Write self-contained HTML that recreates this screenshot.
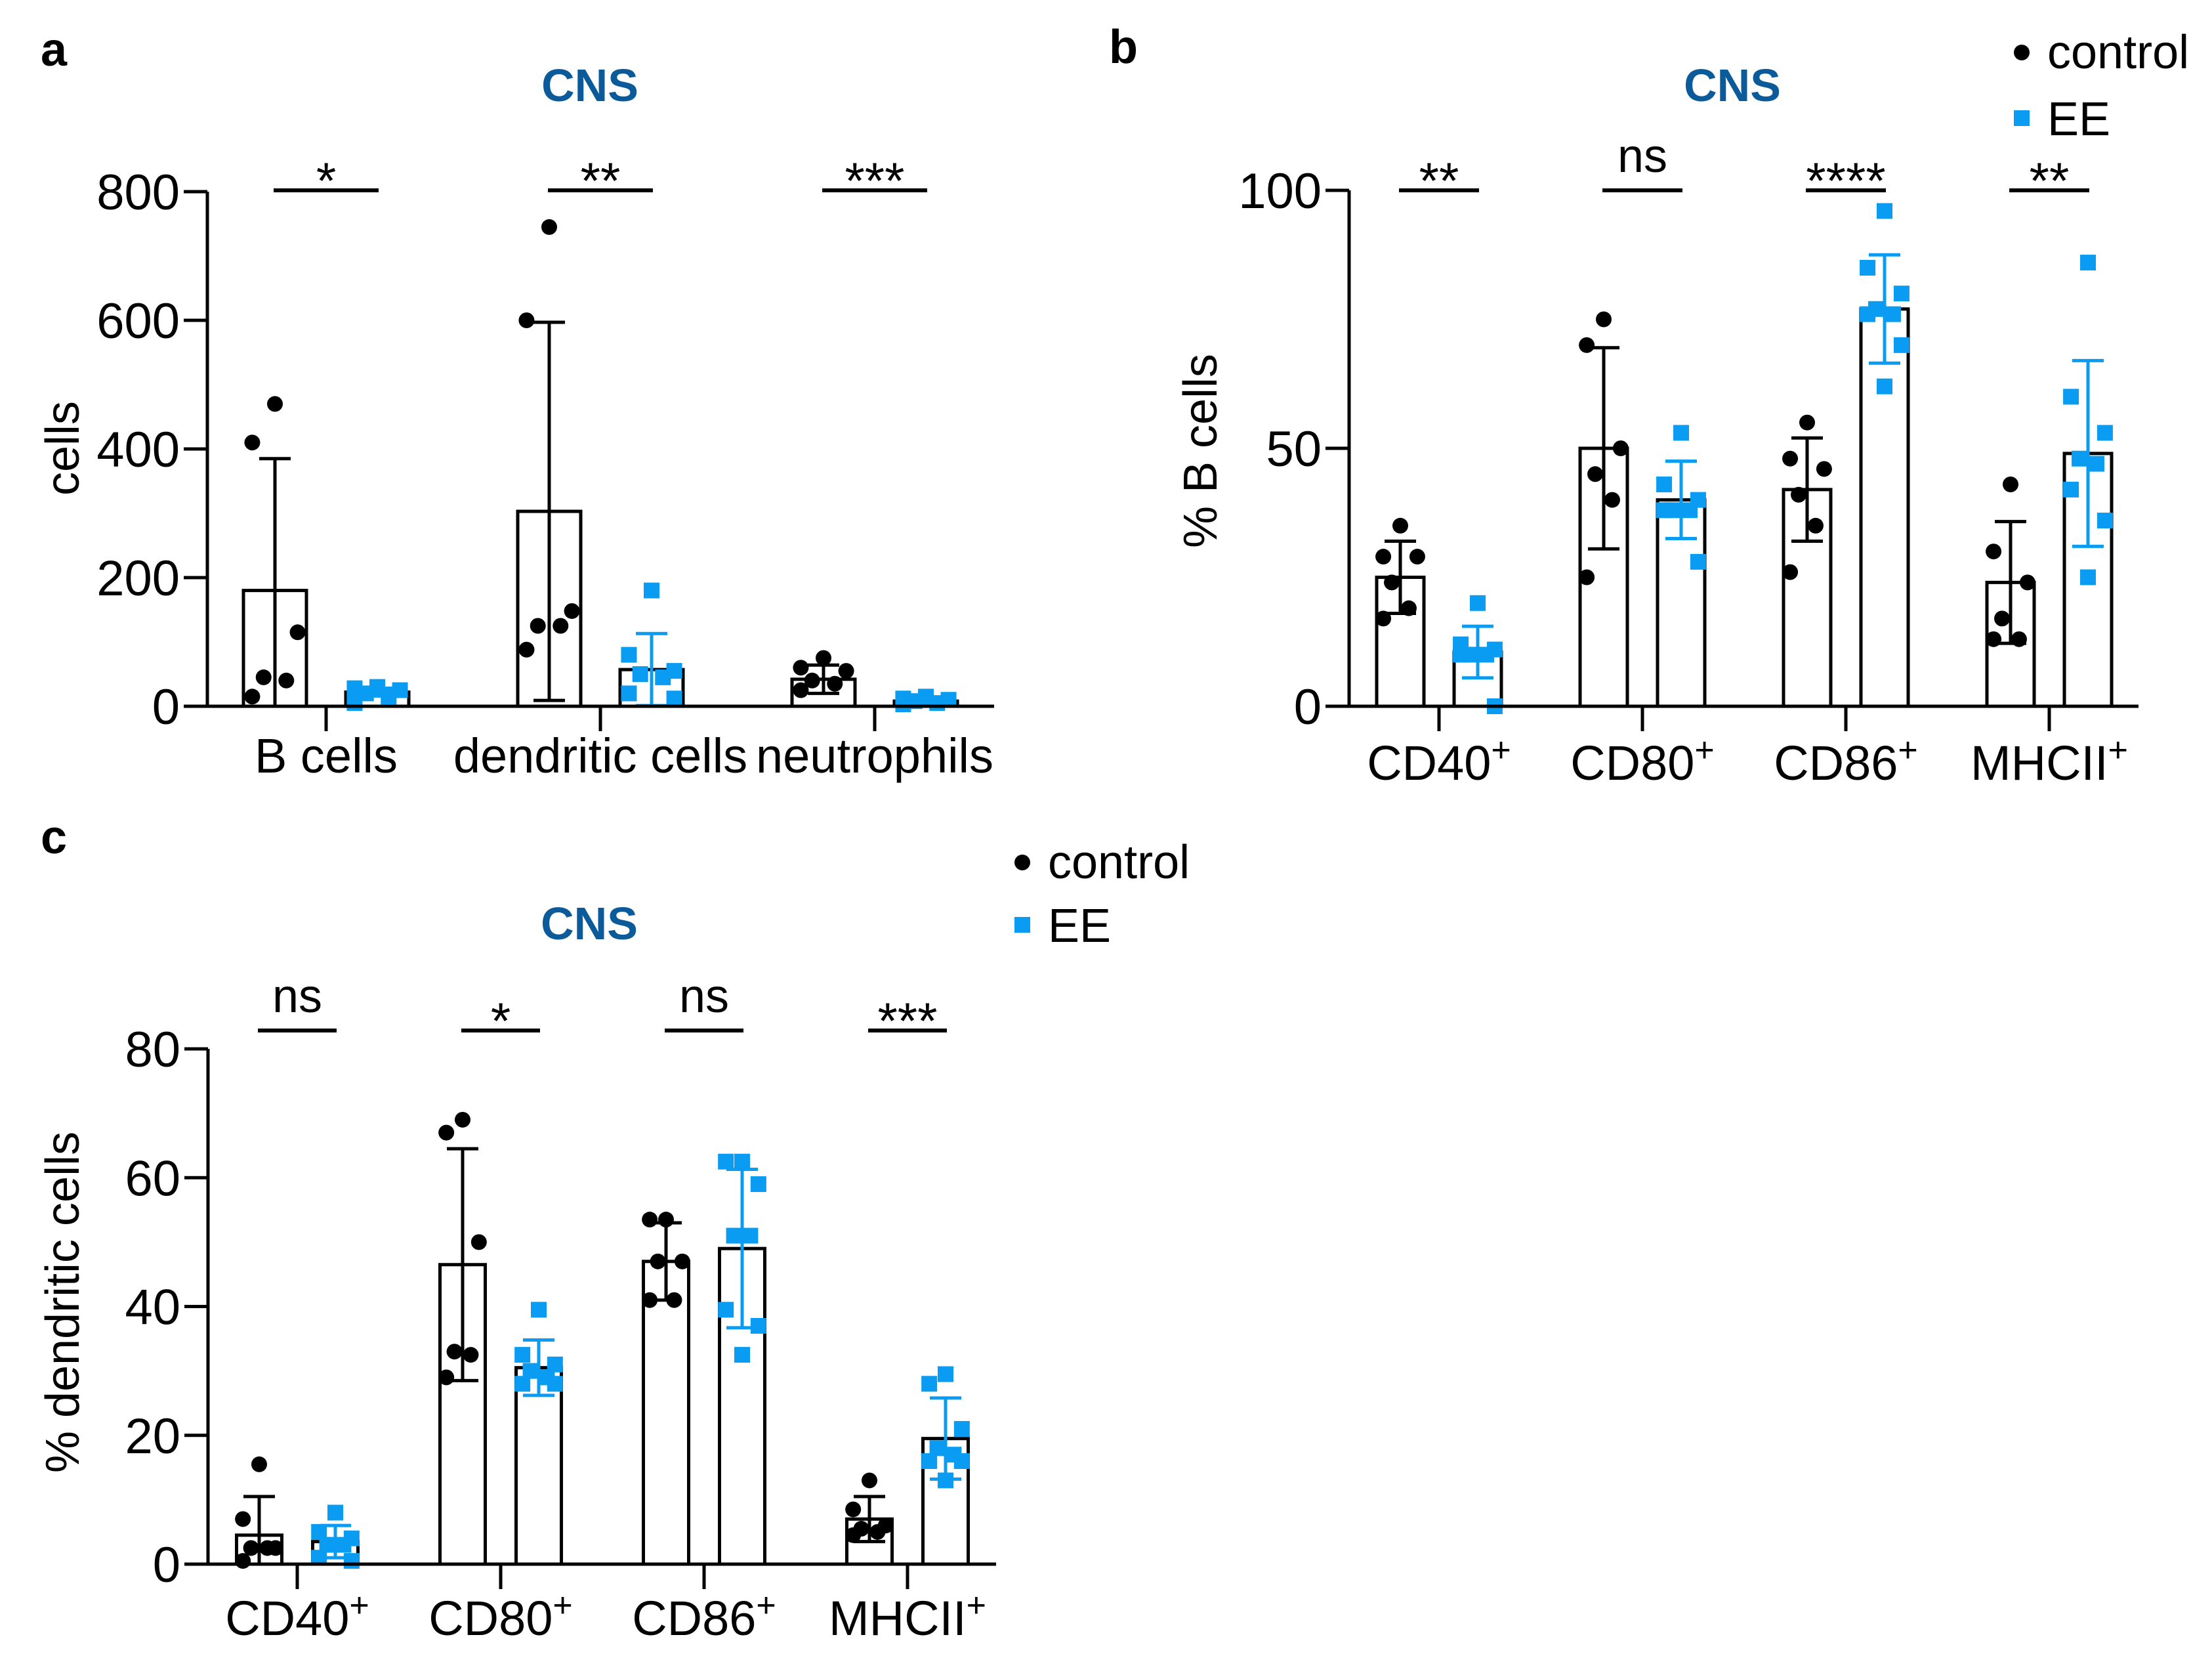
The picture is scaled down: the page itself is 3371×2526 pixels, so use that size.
<!DOCTYPE html>
<html><head><meta charset="utf-8"><style>
html,body{margin:0;padding:0;background:#fff;}
svg{display:block;font-family:"Liberation Sans",Arial,sans-serif;}
</style></head><body>
<svg id="fig" width="3371" height="2526" viewBox="0 0 3371 2526" xmlns="http://www.w3.org/2000/svg">
<rect width="3371" height="2526" fill="#fff"/>
<text x="62" y="100" font-size="72" font-weight="bold">a</text>
<text x="1690" y="96" font-size="72" font-weight="bold">b</text>
<text x="62" y="1300" font-size="72" font-weight="bold">c</text>
<text x="899" y="154" font-size="70" font-weight="bold" fill="#0b5a9a" text-anchor="middle">CNS</text>
<text x="2640" y="154" font-size="70" font-weight="bold" fill="#0b5a9a" text-anchor="middle">CNS</text>
<text x="898" y="1431" font-size="70" font-weight="bold" fill="#0b5a9a" text-anchor="middle">CNS</text>
<g>
<circle cx="3081" cy="80" r="12" fill="#000"/>
<text x="3120" y="104" font-size="72">control</text>
<rect x="3069" y="168" width="24" height="24" fill="#0a9cf2"/>
<text x="3120" y="206" font-size="72">EE</text>
</g>
<g>
<circle cx="1558" cy="1314" r="12" fill="#000"/>
<text x="1597" y="1338" font-size="72">control</text>
<rect x="1546" y="1397" width="24" height="24" fill="#0a9cf2"/>
<text x="1597" y="1435" font-size="72">EE</text>
</g>
</svg>
<script>
// Panel a data
const aCats = ["B cells", "dendritic cells", "neutrophils"];
const aSig = ["*", "**", "***"];
const aTicks = [0, 200, 400, 600, 800];
const aCtrlMean = [180, 303, 42];
const aCtrlSd = [205, 294, 22];
const aEEMean = [22, 57, 8];
const aEESd = [6, 56, 4];
const aCtrlPts = [[470,410,115,45,40,15],[745,600,148,125,125,88],[75,60,55,40,35,25]];
const aEEPts = [[30,28,25,20,15,5],[180,80,55,50,45,20,12],[15,12,10,8,5,3]];
// Panel b data
const bCats = ["CD40", "CD80", "CD86", "MHCII"];
const bSig = ["**", "ns", "****", "**"];
const bTicks = [0, 50, 100];
const bCtrlMean = [25, 50, 42, 24];
const bCtrlSd = [7, 19.5, 10, 11.8];
const bEEMean = [10.5, 40, 77, 49];
const bEESd = [5, 7.5, 10.5, 18];
const bCtrlPts = [[35,29,29,24,19,17],[75,70,50,45,40,25],[55,48,46,41,35,26],[43,30,24,17,13,13]];
const bEEPts = [[20,12,11,10,10,10,0],[53,43,40,38,38,38,28],[96,85,80,77,76,76,70,62],[86,60,53,48,47,42,36,25]];
// Panel c data
const cCats = ["CD40", "CD80", "CD86", "MHCII"];
const cSig = ["ns", "*", "ns", "***"];
const cTicks = [0, 20, 40, 60, 80];
const cCtrlMean = [4.5, 46.5, 47, 7];
const cCtrlSd = [6, 18, 6, 3.5];
const cEEMean = [3.5, 30.5, 49, 19.5];
const cEESd = [2.5, 4.3, 12.3, 6.3];
const cCtrlPts = [[15.5,7,2.5,2.5,2.5,0.5],[69,67,50,33,32.5,29],[53.5,53.5,47,47,41,41],[13,8.5,6,5.5,5,4.5]];
const cEEPts = [[8,5,4,3,3,1,0.5],[39.5,32.5,31,30,29,28,28],[62.5,62.5,59,51,51,39.5,37,32.5],[29.5,28,21,18,17,16,16,13]];

const NS = "http://www.w3.org/2000/svg";
const svg = document.getElementById("fig");
const BLUE = "#0a9cf2";
function mk(tag, attrs, parent) {
  const e = document.createElementNS(NS, tag);
  for (const k in attrs) e.setAttribute(k, attrs[k]);
  (parent || svg).appendChild(e);
  return e;
}
function jitter(i) {
  const pattern = [0, -1, 1, -0.5, 0.5, -1, 1, 0];
  return pattern[i % pattern.length];
}
function panel(cfg) {
  const g = mk("g", {});
  
  
  const maxV = cfg.ticks[cfg.ticks.length - 1];
  const Y = v => cfg.y0 - (v / maxV) * (cfg.y0 - cfg.yTop);
  const X = i => cfg.t0 + i * cfg.step;
  const ya = mk("line", {x1: cfg.ax, y1: cfg.yTop, x2: cfg.ax, y2: cfg.y0, stroke: "#000", "stroke-width": 5}, g);
  
  
  cfg.ticks.forEach(t => {
    const tl = mk("line", {x1: cfg.ax - 36, y1: Y(t), x2: cfg.ax, y2: Y(t), stroke: "#000", "stroke-width": 5}, g);
    
    
    const tx = mk("text", {x: cfg.ax - 42, y: Y(t) + 27, "font-size": 76, "text-anchor": "end"}, g);
    tx.textContent = t;
    
    
  });
  const yl = mk("text", {x: 0, y: 0, "font-size": 72, "text-anchor": "middle", transform: `translate(${cfg.ylx},${cfg.yly}) rotate(-90)`}, g);
  yl.textContent = cfg.ylabel;
  
  
  cfg.cats.forEach((c, i) => {
    const groups = [
      {mean: cfg.cm[i], sd: cfg.cs[i], pts: cfg.cp[i], off: -cfg.off, col: "#000", sq: false, nm: "control"},
      {mean: cfg.em[i], sd: cfg.es[i], pts: cfg.ep[i], off: cfg.off, col: BLUE, sq: true, nm: "ee"}
    ];
    groups.forEach(s => {
      const cx = X(i) + s.off;
      const b = mk("rect", {x: cx - cfg.bw / 2, y: Y(s.mean), width: cfg.bw, height: cfg.y0 - Y(s.mean), fill: "#fff", stroke: "#000", "stroke-width": 5}, g);
      
      
      s.pts.forEach((p, k) => {
        const px = cx + jitter(k) * cfg.bw * 0.36;
        let m;
        if (s.sq) m = mk("rect", {x: px - 12, y: Y(p) - 12, width: 24, height: 24, fill: s.col}, g);
        else m = mk("circle", {cx: px, cy: Y(p), r: 12, fill: s.col}, g);
        
        
      });
      const hi = s.mean + s.sd, lo = Math.max(0, s.mean - s.sd);
      const el = mk("line", {x1: cx, y1: Y(hi), x2: cx, y2: Y(lo), stroke: s.col, "stroke-width": 5}, g);
      
      
      const cap1 = mk("line", {x1: cx - 24, y1: Y(hi), x2: cx + 24, y2: Y(hi), stroke: s.col, "stroke-width": 5}, g);
      
      
      if (s.mean - s.sd > 0) {
        const cap2 = mk("line", {x1: cx - 24, y1: Y(lo), x2: cx + 24, y2: Y(lo), stroke: s.col, "stroke-width": 5}, g);
        
        
      }
    });
    const xt = mk("line", {x1: X(i), y1: cfg.y0, x2: X(i), y2: cfg.y0 + 38, stroke: "#000", "stroke-width": 5}, g);
    
    
    const lab = mk("text", {x: X(i), y: cfg.xly, "font-size": 74, "text-anchor": "middle"}, g);
    lab.textContent = c;
    if (cfg.plus) {
      const sp = mk("tspan", {"font-size": 52, dy: -28}, lab);
      sp.textContent = "+";
    }
    
    
    const sl = mk("line", {x1: X(i) - cfg.off - 2, y1: cfg.sigY, x2: X(i) + cfg.off + 2, y2: cfg.sigY, stroke: "#000", "stroke-width": 6}, g);
    
    
    const sig = cfg.sig[i];
    const st = mk("text", {x: X(i), y: sig === "ns" ? cfg.sigY - 28 : cfg.sigY + 12, "font-size": sig === "ns" ? 72 : 78, "text-anchor": "middle"}, g);
    st.textContent = sig;
    
    
  });
  const xa = mk("line", {x1: cfg.ax - 36, y1: cfg.y0, x2: cfg.xEnd, y2: cfg.y0, stroke: "#000", "stroke-width": 5}, g);
  
  
}
panel({name: "panel-a", cats: aCats, sig: aSig, ticks: aTicks, cm: aCtrlMean, cs: aCtrlSd, em: aEEMean, es: aEESd, cp: aCtrlPts, ep: aEEPts,
  ax: 316, y0: 1076, yTop: 292, xEnd: 1515, t0: 497, step: 418, off: 78, bw: 96, sigY: 290, ylabel: "cells", ylx: 120, yly: 683, xly: 1177, plus: false});
panel({name: "panel-b", cats: bCats, sig: bSig, ticks: bTicks, cm: bCtrlMean, cs: bCtrlSd, em: bEEMean, es: bEESd, cp: bCtrlPts, ep: bEEPts,
  ax: 2056, y0: 1076, yTop: 290, xEnd: 3259, t0: 2193, step: 310, off: 59, bw: 72, sigY: 290, ylabel: "% B cells", ylx: 1854, yly: 687, xly: 1188, plus: true});
panel({name: "panel-c", cats: cCats, sig: cSig, ticks: cTicks, cm: cCtrlMean, cs: cCtrlSd, em: cEEMean, es: cEESd, cp: cCtrlPts, ep: cEEPts,
  ax: 317, y0: 2383, yTop: 1598, xEnd: 1518, t0: 453, step: 310, off: 58, bw: 69, sigY: 1570, ylabel: "% dendritic cells", ylx: 120, yly: 1984, xly: 2491, plus: true});
</script>
</body></html>
